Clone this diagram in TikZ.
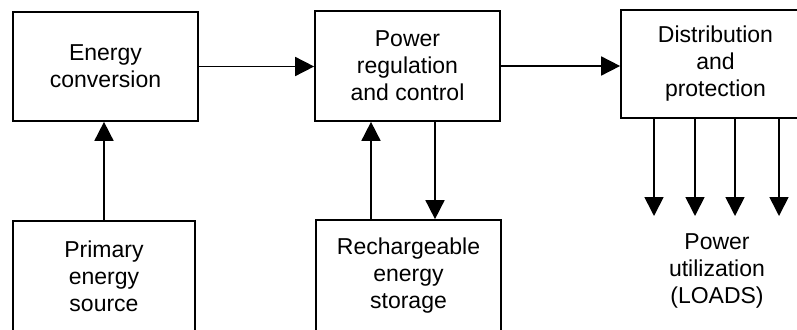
\documentclass[tikz,border=0pt]{standalone}
\usepackage{fontspec}
\setmainfont{Liberation Sans}
\usetikzlibrary{arrows.meta}
\begin{document}
\begin{tikzpicture}[x=1pt, y=-1pt, line width=1.7pt,
        every node/.style={align=center, inner sep=0pt, font=\fontsize{23}{27}\selectfont},
        box/.style={draw, minimum width=185pt},
        arr/.style={-{Triangle[width=19pt,length=19pt]}}]
        \useasboundingbox (0,0) rectangle (797,329);
        \node[box, minimum height=109pt] (conv) at (105.5,66.5) {Energy\\conversion};
        \node[box, minimum width=182pt, minimum height=110pt] (prim) at (104,276) {Primary\\energy\\source};
        \node[box, minimum height=110pt] (reg) at (407.5,66) {Power\\regulation\\and control};
        \node[box, minimum height=111pt] (stor) at (408.5,275.5) {Rechargeable\\energy\\storage};
        \node[box, minimum width=189pt, minimum height=108pt] (dist) at (715.5,64) {Distribution\\and\\protection};
        \node (loads) at (717,271) {Power\\utilization\\(LOADS)};
        \draw[arr] (prim.north) -- (prim.north |- conv.south);
        \draw[arr] (conv.east) -- (conv.east -| reg.west);
        \draw[arr] (reg.east) -- (reg.east -| dist.west);
        \draw[arr] ([xshift=-37.5pt]stor.north) -- ([xshift=-37.5pt]stor.north |- reg.south);
        \draw[arr] ([xshift=27.5pt]reg.south) -- ([xshift=27.5pt]reg.south |- stor.north);
        \foreach \x [count=\i] in {654,695,735,779} {
            \coordinate (load\i) at (\x,216);
            \draw[arr] (dist.south -| load\i) -- (load\i);
        }
    \end{tikzpicture}
\end{document}
